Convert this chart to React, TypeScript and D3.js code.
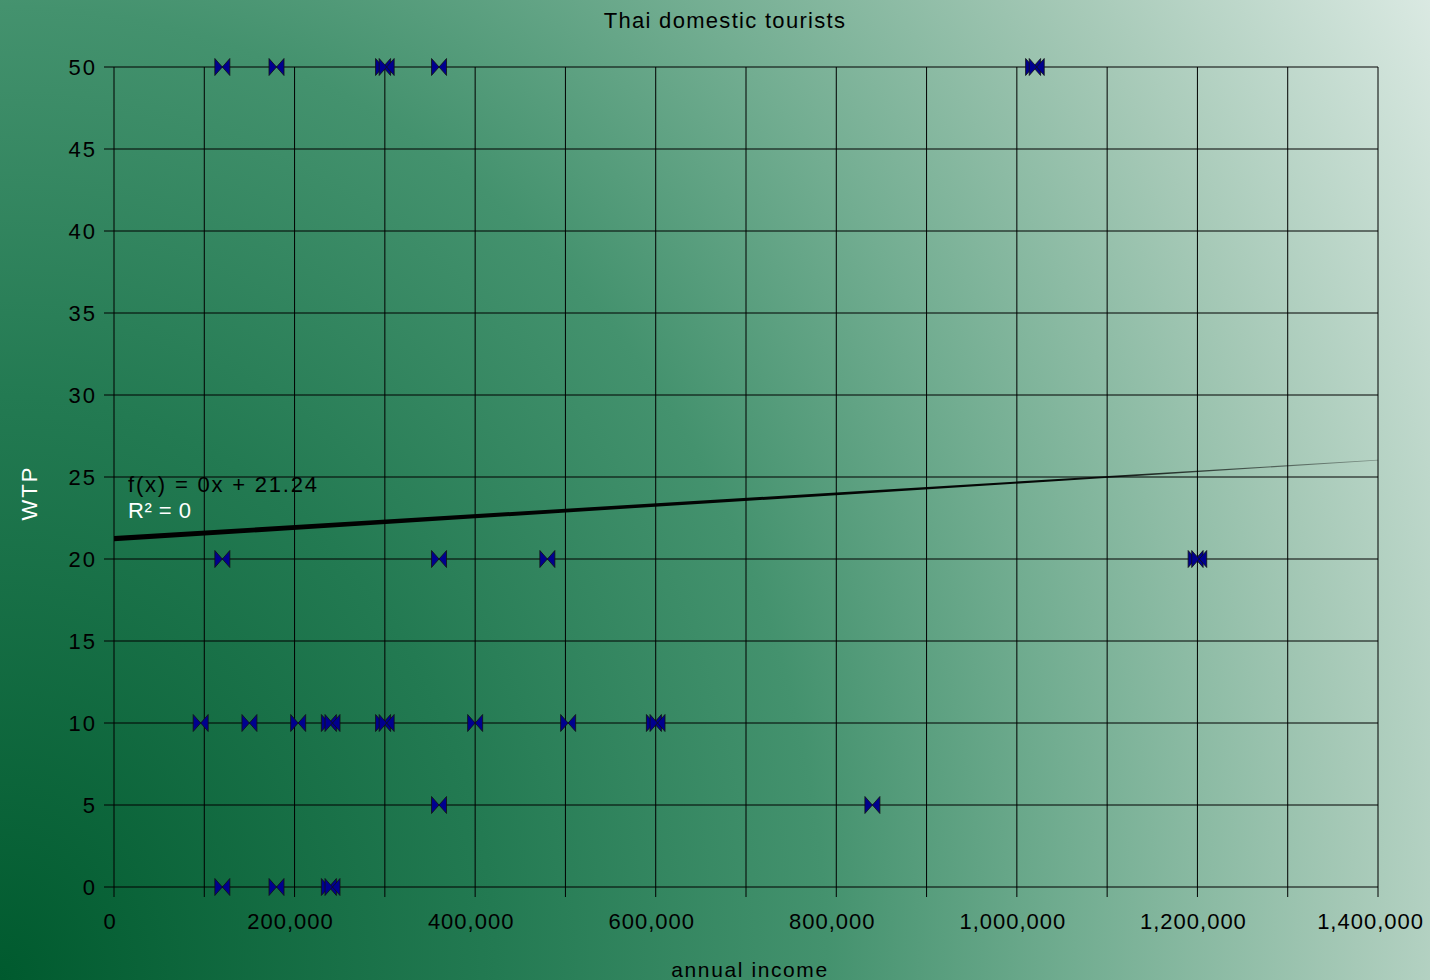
import React from "react";
import * as d3 from "d3";

const W = 1430;
const H = 980;

const chartTitle = "Thai domestic tourists";
const xAxisTitle = "annual income";
const yAxisTitle = "WTP";

const xTicks = [0, 200000, 400000, 600000, 800000, 1000000, 1200000, 1400000];
const xGrid = [0, 100000, 200000, 300000, 400000, 500000, 600000, 700000, 800000, 900000, 1000000, 1100000, 1200000, 1300000, 1400000];
const yTicks = [0, 5, 10, 15, 20, 25, 30, 35, 40, 45, 50];

// annual income (x) and WTP (y) of each respondent
const income = [
  120000, 180000, 298000, 302000, 360000, 1018000, 1022000,
  120000, 360000, 480000, 1198000, 1202000,
  96000, 150000, 204000, 238000, 242000, 298000, 302000, 400000, 503000, 598000, 602000,
  360000, 840000,
  120000, 180000, 238000, 242000,
];
const wtp = [
  50, 50, 50, 50, 50, 50, 50,
  20, 20, 20, 20, 20,
  10, 10, 10, 10, 10, 10, 10, 10, 10, 10, 10,
  5, 5,
  0, 0, 0, 0,
];

const trendSlope = 0.00000342;
const trendIntercept = 21.24;
const eqText = "f(x) = 0x + 21.24";
const r2Text = "R² = 0";

const FONT = "'Liberation Sans', Arial, sans-serif";

export default function App() {
  const x = d3.scaleLinear().domain([0, 1400000]).range([114, 1378]);
  const y = d3.scaleLinear().domain([0, 50]).range([887, 67]);
  const fmt = d3.format(",");

  const [x0, x1] = x.domain();
  const ya = trendIntercept + trendSlope * x0;
  const yb = trendIntercept + trendSlope * x1;
  const wa = 2.7;
  const wb = 0.35;
  const trendPoly = [
    [x(x0), y(ya) - wa],
    [x(x1), y(yb) - wb],
    [x(x1), y(yb) + wb],
    [x(x0), y(ya) + wa],
  ];
  const trendPath = d3.line()(trendPoly as [number, number][]) + "Z";

  const bow = (cx: number, cy: number) => {
    const hw = 7.5;
    const hh = 8.5;
    return `M${cx - hw},${cy - hh}L${cx},${cy}L${cx - hw},${cy + hh}Z M${cx + hw},${cy - hh}L${cx},${cy}L${cx + hw},${cy + hh}Z`;
  };

  const R = 1947;

  return (
    <svg
      width={W}
      height={H}
      style={{ position: "absolute", left: 0, top: 0, display: "block" }}
      fontFamily={FONT}
    >
      <defs>
        <radialGradient
          id="bg"
          gradientUnits="userSpaceOnUse"
          cx={0}
          cy={H}
          r={R}
          fx={0}
          fy={H}
          gradientTransform={`translate(0,${H}) scale(0.85,1) translate(0,${-H})`}
        >
          <stop offset="0" stopColor="#005a2e" />
          <stop offset="0.3" stopColor="#237a52" />
          <stop offset="0.5" stopColor="#44926e" />
          <stop offset="0.65" stopColor="#72ad91" />
          <stop offset="0.82" stopColor="#a6c9b7" />
          <stop offset="1" stopColor="#dae9e2" />
        </radialGradient>
        <linearGradient id="trendFade" gradientUnits="userSpaceOnUse" x1={x(x0)} y1={0} x2={x(x1)} y2={0}>
          <stop offset="0" stopColor="#000" stopOpacity={1} />
          <stop offset="0.75" stopColor="#000" stopOpacity={0.95} />
          <stop offset="1" stopColor="#000" stopOpacity={0.3} />
        </linearGradient>
      </defs>
      <rect x={0} y={0} width={W} height={H} fill="url(#bg)" />

      {/* grid */}
      {yTicks.map((t) => (
        <line key={"gy" + t} x1={104} x2={x(1400000)} y1={y(t)} y2={y(t)} stroke="#000" strokeWidth={1} />
      ))}
      {xGrid.map((t) => (
        <line key={"gx" + t} x1={x(t)} x2={x(t)} y1={y(50)} y2={y(0) + 10} stroke="#000" strokeWidth={1} />
      ))}

      {/* y tick labels */}
      {yTicks.map((t) => (
        <text key={"ly" + t} x={97} y={y(t) + 8} textAnchor="end" fontSize={22} letterSpacing={2} fill="#000">
          {t}
        </text>
      ))}
      {/* x tick labels */}
      {xTicks.map((t, i) => {
        const last = i === xTicks.length - 1;
        return (
          <text
            key={"lx" + t}
            x={last ? W - 6 : x(t) - 4}
            y={929}
            textAnchor={last ? "end" : "middle"}
            fontSize={22}
            letterSpacing={1}
            fill="#000"
          >
            {fmt(t)}
          </text>
        );
      })}

      {/* trend line */}
      <path d={trendPath} fill="url(#trendFade)" />

      {/* markers */}
      {income.map((v, i) => (
        <path
          key={"m" + i}
          d={bow(x(v), y(wtp[i]))}
          fill="#00008f"
          stroke="#111"
          strokeWidth={0.8}
          strokeLinejoin="miter"
        />
      ))}

      {/* equation */}
      <text x={128} y={492} fontSize={22} letterSpacing={1.8} fill="#000">
        {eqText}
      </text>
      <text x={128} y={518} fontSize={22} letterSpacing={0.5} fill="#fff">
        {r2Text}
      </text>

      {/* titles */}
      <text x={725} y={28} textAnchor="middle" fontSize={22} letterSpacing={1.3} fill="#000">
        {chartTitle}
      </text>
      <text x={750} y={977} textAnchor="middle" fontSize={21} letterSpacing={1.6} fill="#000">
        {xAxisTitle}
      </text>
      <text
        transform={`translate(37, 493) rotate(-90)`}
        textAnchor="middle"
        fontSize={22}
        letterSpacing={2}
        fill="#fff"
      >
        {yAxisTitle}
      </text>
    </svg>
  );
}
